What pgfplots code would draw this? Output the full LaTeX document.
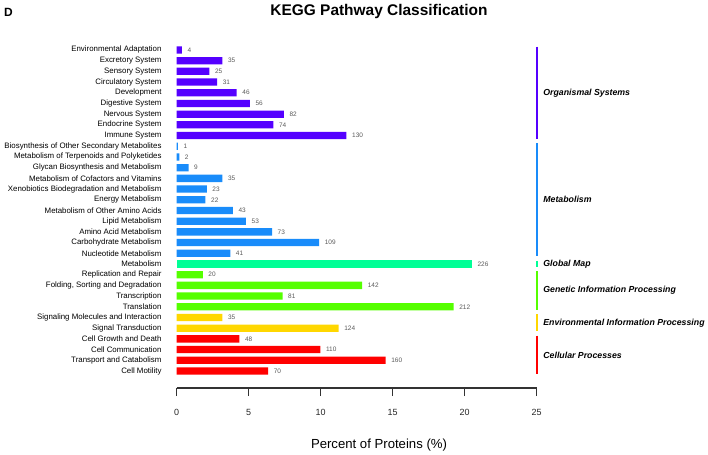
\documentclass[border=0pt]{standalone}
\usepackage{pgfplots}
\pgfplotsset{compat=1.18}
\usepackage{pgfplotstable}
\usepackage{fontspec}
\setmainfont{Liberation Sans}
\definecolor{cOrg}{RGB}{85,0,255}
\definecolor{cMet}{RGB}{25,140,250}
\definecolor{cGlo}{RGB}{0,255,150}
\definecolor{cGen}{RGB}{85,255,0}
\definecolor{cEnv}{RGB}{255,215,0}
\definecolor{cCel}{RGB}{255,0,0}

\pgfplotstableread{
pos pct n
30 0.36 4
29 3.17 35
28 2.27 25
27 2.81 31
26 4.17 46
25 5.08 56
24 7.44 82
23 6.71 74
22 11.79 130
}\orgtab
\pgfplotstableread{
pos pct n
21 0.09 1
20 0.18 2
19 0.82 9
18 3.17 35
17 2.09 23
16 2.00 22
15 3.90 43
14 4.81 53
13 6.62 73
12 9.89 109
11 3.72 41
}\mettab
\pgfplotstableread{
pos pct n
10 20.50 226
}\glotab
\pgfplotstableread{
pos pct n
9 1.81 20
8 12.88 142
7 7.35 81
6 19.23 212
}\gentab
\pgfplotstableread{
pos pct n
5 3.17 35
4 11.25 124
}\envtab
\pgfplotstableread{
pos pct n
3 4.35 48
2 9.98 110
1 14.51 160
0 6.35 70
}\celtab

\begin{document}
\begin{tikzpicture}
\begin{axis}[
  scale only axis, width=360bp, height=348bp,
  xmin=0, xmax=25, ymin=-1.59, ymax=30.93,
  axis x line*=bottom, axis y line*=left,
  y axis line style={draw=none},
  ytick style={draw=none},
  x axis line style={line width=1.3bp, draw=black!80},
  xtick style={line width=1.3bp, draw=black!80},
  xtick={0,5,10,15,20,25},
  xticklabels={0,5,10,15,20,25},
  tick align=outside,
  major tick length=8bp,
  /pgf/number format/assume math mode=true,
  x tick label style={font=\fontsize{9}{10}\selectfont, text=black!85, yshift=-10bp},
  ytick={0,...,30},
  yticklabels={Cell Motility, Transport and Catabolism, Cell Communication, Cell Growth and Death, Signal Transduction, Signaling Molecules and Interaction, Translation, Transcription, {Folding, Sorting and Degradation}, Replication and Repair, Metabolism, Nucleotide Metabolism, Carbohydrate Metabolism, Amino Acid Metabolism, Lipid Metabolism, Metabolism of Other Amino Acids, Energy Metabolism, Xenobiotics Biodegradation and Metabolism, Metabolism of Cofactors and Vitamins, Glycan Biosynthesis and Metabolism, Metabolism of Terpenoids and Polyketides, Biosynthesis of Other Secondary Metabolites, Immune System, Endocrine System, Nervous System, Digestive System, Development, Circulatory System, Sensory System, Excretory System, Environmental Adaptation},
  yticklabel style={font=\fontsize{7.9}{9}\selectfont, inner sep=0pt, anchor=east, xshift=-7bp},
  xbar, bar width=0.68, bar shift=0pt,
  nodes near coords, point meta=explicit symbolic,
  every node near coord/.append style={font=\fontsize{6.5}{7.5}\selectfont, text=black!65, anchor=west, inner sep=0pt, xshift=5.5bp},
  clip=false,
]
\addplot[fill=cOrg, draw=none] table[x=pct, y=pos, meta=n]{\orgtab};
\addplot[fill=cMet, draw=none] table[x=pct, y=pos, meta=n]{\mettab};
\addplot[fill=cGlo, draw=none] table[x=pct, y=pos, meta=n]{\glotab};
\addplot[fill=cGen, draw=none] table[x=pct, y=pos, meta=n]{\gentab};
\addplot[fill=cEnv, draw=none] table[x=pct, y=pos, meta=n]{\envtab};
\addplot[fill=cCel, draw=none] table[x=pct, y=pos, meta=n]{\celtab};

\draw[cOrg, line width=2bp] (axis cs:25,30.3) -- (axis cs:25,21.7);
\draw[cMet, line width=2bp] (axis cs:25,21.3) -- (axis cs:25,10.7);
\draw[cGlo, line width=2bp] (axis cs:25,10.3) -- (axis cs:25,9.7);
\draw[cGen, line width=2bp] (axis cs:25,9.3) -- (axis cs:25,5.7);
\draw[cEnv, line width=2bp] (axis cs:25,5.3) -- (axis cs:25,3.7);
\draw[cCel, line width=2bp] (axis cs:25,3.3) -- (axis cs:25,-0.3);

\tikzset{grp/.style={anchor=west, inner sep=0pt, xshift=6.5bp, font=\fontsize{8.8}{10}\selectfont\bfseries\itshape}}
\node[grp] at (axis cs:25,26) {Organismal Systems};
\node[grp] at (axis cs:25,16) {Metabolism};
\node[grp] at (axis cs:25,10) {Global Map};
\node[grp] at (axis cs:25,7.5) {Genetic Information Processing};
\node[grp] at (axis cs:25,4.5) {Environmental Information Processing};
\node[grp] at (axis cs:25,1.5) {Cellular Processes};

\coordinate (O) at (rel axis cs:0,0);
\end{axis}
\node[font=\fontsize{15.5}{17}\selectfont\bfseries] at ([shift={(202.3bp,376bp)}]O) {KEGG Pathway Classification};
\node[font=\fontsize{13.2}{15}\selectfont] at ([shift={(202.3bp,-57bp)}]O) {Percent of Proteins (\%)};
\node[anchor=west, inner sep=0pt, font=\fontsize{12}{13}\selectfont\bfseries] at ([shift={(-172.7bp,376bp)}]O) {D};
\pgfresetboundingbox
\path (O) ++(-176.7bp,-67bp) rectangle ++(708bp,455bp);
\end{tikzpicture}
\end{document}
